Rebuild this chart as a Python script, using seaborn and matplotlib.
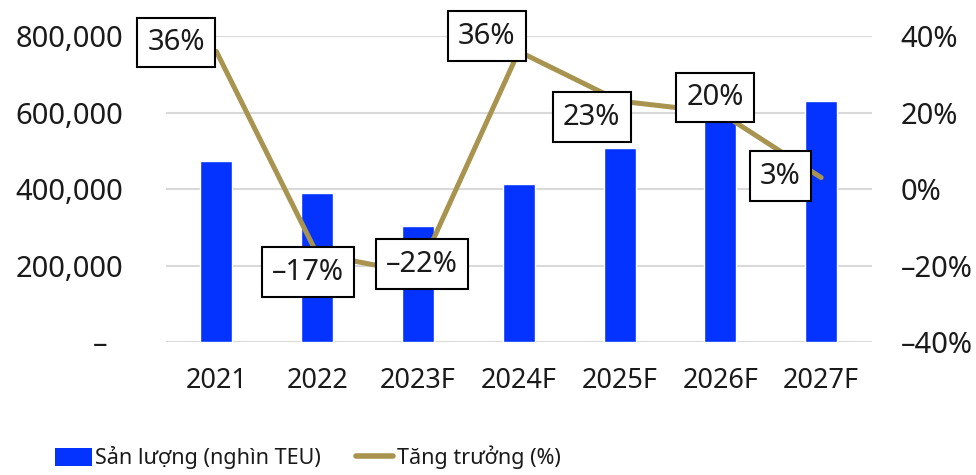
import matplotlib
matplotlib.use("Agg")
import matplotlib.pyplot as plt
import matplotlib.ticker as mticker
from matplotlib.patches import Patch
from matplotlib.lines import Line2D
import numpy as np
import pandas as pd
import seaborn as sns

years = ["2021", "2022", "2023F", "2024F", "2025F", "2026F", "2027F"]
volume = [473000, 390000, 303000, 413000, 508000, 612000, 630000]
growth = [36, -17, -22, 36, 23, 20, 3]
growth_labels = ["36%", "–17%", "–22%", "36%", "23%", "20%", "3%"]
left_ticks = [0, 200000, 400000, 600000, 800000]
right_ticks = [-40, -20, 0, 20, 40]
legend_labels = ["Sản lượng (nghìn TEU)", "Tăng trưởng (%)"]

BAR_COLOR = "#0433FF"
LINE_COLOR = "#A8944F"
GRID_COLOR = "#D9D9D9"
TEXT_COLOR = "#1A1A1A"

sns.set_theme(style="white")
plt.rcParams["font.family"] = ["Noto Sans", "DejaVu Sans"]

df = pd.DataFrame({"year": years, "volume": volume, "growth": growth})

fig = plt.figure(figsize=(9.76, 4.75), dpi=100)
ax = fig.add_axes([0.170, 0.280, 0.723, 0.644])

sns.barplot(data=df, x="year", y="volume", color=BAR_COLOR, width=0.317,
            saturation=1, ax=ax, zorder=2)
ax.set_ylim(0, 800000)
ax.set_xlim(-0.5, 6.5)
ax.set_yticks(left_ticks)
ax.yaxis.set_major_formatter(mticker.FuncFormatter(
    lambda v, p: "–  " if v == 0 else f"{int(v):,}"))
ax.grid(axis="y", color=GRID_COLOR, linewidth=1.5, zorder=0)
ax.set_axisbelow(True)
for s in ax.spines.values():
    s.set_visible(False)
ax.set_xlabel("")
ax.set_ylabel("")
ax.tick_params(axis="y", length=0, pad=31, labelsize=21, labelcolor=TEXT_COLOR)
ax.tick_params(axis="x", length=0, pad=18, labelsize=19.5, labelcolor=TEXT_COLOR)

ax2 = ax.twinx()
sns.lineplot(data=df, x="year", y="growth", color=LINE_COLOR, linewidth=3.6,
             sort=False, ax=ax2)
ax2.set_ylim(-40, 40)
ax2.set_yticks(right_ticks)
ax2.yaxis.set_major_formatter(mticker.FuncFormatter(
    lambda v, p: f"{int(v)}%".replace("-", "–")))
ax2.tick_params(axis="y", length=0, pad=21, labelsize=21, labelcolor=TEXT_COLOR)
ax2.set_ylabel("")
ax2.grid(False)
for s in ax2.spines.values():
    s.set_visible(False)

# label offsets (points) from each growth point
offsets = [(-29, 6.5), (-6.5, -13), (3, 6.5), (-23, 11), (-20, -11.5), (-3.6, 11), (-29.5, 1)]
for i, (lab, g, off) in enumerate(zip(growth_labels, growth, offsets)):
    ax2.annotate(lab, xy=(i, g), xytext=off, textcoords="offset points",
                 ha="center", va="center", fontsize=21, color=TEXT_COLOR,
                 bbox=dict(boxstyle="square,pad=0.35", fc="white", ec="black", lw=1.5),
                 annotation_clip=False, zorder=5)

handles = [Patch(facecolor=BAR_COLOR, edgecolor="none"),
           Line2D([0], [0], color=LINE_COLOR, linewidth=4, solid_capstyle="round")]
fig.legend(handles, legend_labels, loc="center left", bbox_to_anchor=(0.036, 0.037),
           ncol=2, frameon=False, fontsize=15.5,
           handlelength=1.75, handleheight=0.95,
           handletextpad=0.15, columnspacing=1.6, labelcolor=TEXT_COLOR)

fig.savefig("out.png", dpi=100)
